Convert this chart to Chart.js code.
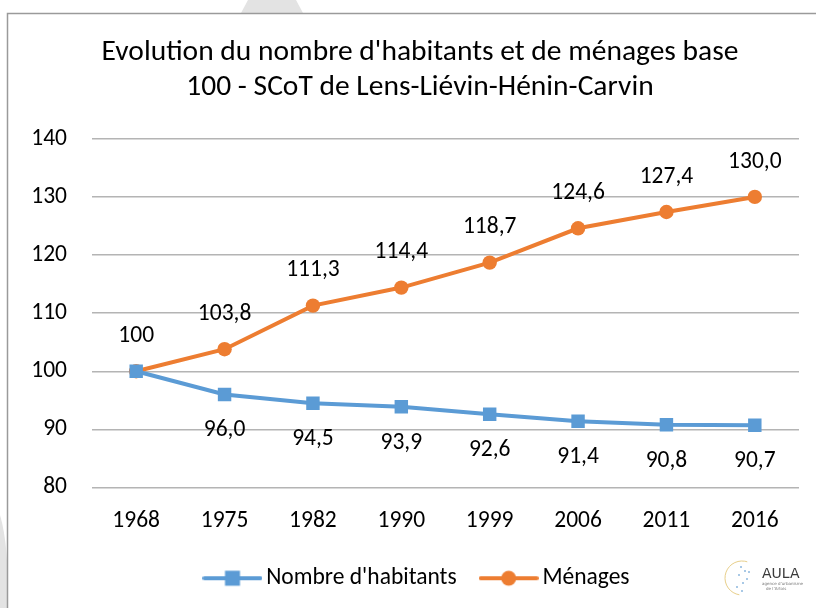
<!DOCTYPE html>
<html lang="fr">
<head>
<meta charset="utf-8">
<title>Evolution du nombre d'habitants et de ménages base 100</title>
<script src="https://cdn.jsdelivr.net/npm/chart.js@4/dist/chart.umd.min.js"></script>
<style>
  html, body { margin: 0; padding: 0; background: #ffffff; }
  #wrap { width: 816px; height: 608px; }
</style>
</head>
<body>
<div id="wrap"><canvas id="chart" width="816" height="608"></canvas></div>
<script>
// Years of the census
const years = ['1968', '1975', '1982', '1990', '1999', '2006', '2011', '2016'];
// Index base 100 in 1968
const habitants = [100, 96.0, 94.5, 93.9, 92.6, 91.4, 90.8, 90.7];
const menages = [100, 103.8, 111.3, 114.4, 118.7, 124.6, 127.4, 130.0];
// Value axis
const yMin = 80;
const yMax = 140;
const yStep = 10;

const BLUE = '#5B9BD5';
const ORANGE = '#ED7D31';
const FONT = "Carlito, Lato, 'Open Sans', sans-serif";

function fmt(v) {
  return v === 100 ? '100' : v.toFixed(1).replace('.', ',');
}

// Legend symbol: a short line with the series marker in the middle
function legendSymbol(color, shape) {
  const c = document.createElement('canvas');
  c.width = 60; c.height = 18;
  const g = c.getContext('2d');
  g.strokeStyle = color;
  g.lineWidth = 4;
  g.lineCap = 'round';
  g.beginPath(); g.moveTo(2, 9); g.lineTo(58, 9); g.stroke();
  g.fillStyle = color;
  if (shape === 'rect') {
    g.fillRect(30 - 7.5, 9 - 7.5, 15, 15);
  } else {
    g.beginPath(); g.arc(30, 9, 7.5, 0, Math.PI * 2); g.fill();
  }
  return c;
}
const symbols = [legendSymbol(BLUE, 'rect'), legendSymbol(ORANGE, 'circle')];

// Background, faint watermark pieces, the frame and the small logo
const framePlugin = {
  id: 'frame',
  beforeDraw(chart) {
    // let the value-axis labels overflow the narrow axis box
    if (chart.scales.y) chart.scales.y._computeLabelArea = () => undefined;
    const ctx = chart.ctx;
    ctx.save();
    ctx.fillStyle = '#ffffff';
    ctx.fillRect(0, 0, chart.width, chart.height);
    ctx.fillStyle = '#e3e3e3';
    ctx.beginPath();
    ctx.moveTo(248, 0); ctx.lineTo(296, 0); ctx.lineTo(303, 13); ctx.lineTo(241, 13);
    ctx.closePath(); ctx.fill();
    ctx.beginPath();
    ctx.moveTo(0, 515); ctx.quadraticCurveTo(9, 545, 8, 608); ctx.lineTo(0, 608);
    ctx.closePath(); ctx.fill();
    ctx.fillStyle = '#ffffff';
    ctx.fillRect(8, 13, chart.width, chart.height);
    ctx.strokeStyle = '#9a9a9a';
    ctx.lineWidth = 1.5;
    ctx.beginPath();
    ctx.moveTo(7.5, chart.height + 2); ctx.lineTo(7.5, 13.5); ctx.lineTo(chart.width + 2, 13.5);
    ctx.stroke();
    ctx.restore();
  },
  afterDraw(chart) {
    const ctx = chart.ctx;
    ctx.save();
    // logo mark
    ctx.strokeStyle = '#e8cf8a';
    ctx.lineWidth = 1;
    ctx.beginPath();
    ctx.arc(742, 578, 17, Math.PI * 0.55, Math.PI * 1.6);
    ctx.stroke();
    ctx.fillStyle = '#a9c9e6';
    [[740, 566], [744, 570], [738, 574], [746, 578], [742, 582], [736, 586], [748, 571], [741, 590]].forEach(p => {
      ctx.fillRect(p[0], p[1], 2, 2);
    });
    ctx.fillStyle = '#3a3a3a';
    ctx.font = "14px 'DejaVu Sans', sans-serif";
    ctx.textBaseline = 'middle';
    ctx.textAlign = 'left';
    ctx.fillText('AULA', 762, 574);
    ctx.font = "4px 'DejaVu Sans', sans-serif";
    ctx.fillStyle = '#777777';
    ctx.fillText('agence d\u2019urbanisme', 762, 584);
    ctx.fillText('de l\u2019Artois', 766, 589);
    ctx.restore();
  }
};

// Value labels above the households line and below the inhabitants line
const valueLabels = {
  id: 'valueLabels',
  afterDatasetsDraw(chart) {
    const ctx = chart.ctx;
    ctx.save();
    ctx.font = '23.5px ' + FONT;
    ctx.fillStyle = '#000000';
    ctx.textAlign = 'center';
    ctx.textBaseline = 'middle';
    chart.data.datasets.forEach((ds, di) => {
      const meta = chart.getDatasetMeta(di);
      meta.data.forEach((pt, i) => {
        if (di === 0 && i === 0) return;
        const dy = di === 0 ? 36 : -35;
        ctx.fillText(fmt(ds.data[i]), pt.x, pt.y + dy);
      });
    });
    ctx.restore();
  }
};

new Chart(document.getElementById('chart'), {
  type: 'line',
  data: {
    labels: years,
    datasets: [
      {
        label: "Nombre d'habitants",
        data: habitants,
        borderColor: BLUE,
        backgroundColor: BLUE,
        borderWidth: 4,
        pointStyle: 'rect',
        pointRadius: 9.5,
        pointHoverRadius: 9.5,
        pointBorderWidth: 0,
        tension: 0
      },
      {
        label: 'Ménages',
        data: menages,
        borderColor: ORANGE,
        backgroundColor: ORANGE,
        borderWidth: 4,
        pointStyle: 'circle',
        pointRadius: 7.2,
        pointHoverRadius: 7.2,
        pointBorderWidth: 0,
        tension: 0
      }
    ]
  },
  options: {
    responsive: false,
    devicePixelRatio: 1,
    animation: false,
    events: [],
    layout: { padding: { top: 14, left: 41, right: 17, bottom: 8 } },
    scales: {
      x: {
        offset: true,
        grid: { display: false, drawTicks: false },
        border: { display: false },
        ticks: { color: '#000000', font: { family: FONT, size: 23.5 }, padding: 20, maxRotation: 0 },
        afterFit(scale) { scale.height = 49; }
      },
      y: {
        min: yMin,
        max: yMax,
        grid: { color: '#b4b4b4', lineWidth: 1.5, drawTicks: false },
        border: { display: false },
        ticks: {
          stepSize: yStep,
          color: '#000000',
          font: { family: FONT, size: 23.5 },
          padding: 25
        },
        afterFit(scale) { scale.width = 51; }
      }
    },
    plugins: {
      title: {
        display: true,
        text: ["Evolution du nombre d'habitants et de ménages base", '100 - SCoT de Lens-Liévin-Hénin-Carvin'],
        color: '#000000',
        font: { family: FONT, size: 29.5, weight: 'normal', lineHeight: 1.2 },
        padding: { top: 21, bottom: 33 }
      },
      legend: {
        position: 'bottom',
        labels: {
          usePointStyle: true,
          pointStyleWidth: 44,
          color: '#000000',
          font: { family: FONT, size: 23.5 },
          padding: 30,
          generateLabels(chart) {
            const items = Chart.defaults.plugins.legend.labels.generateLabels(chart);
            items.forEach((it, i) => { it.pointStyle = symbols[i]; });
            return items;
          }
        }
      },
      tooltip: { enabled: false }
    }
  },
  plugins: [framePlugin, valueLabels]
});
</script>
</body>
</html>
